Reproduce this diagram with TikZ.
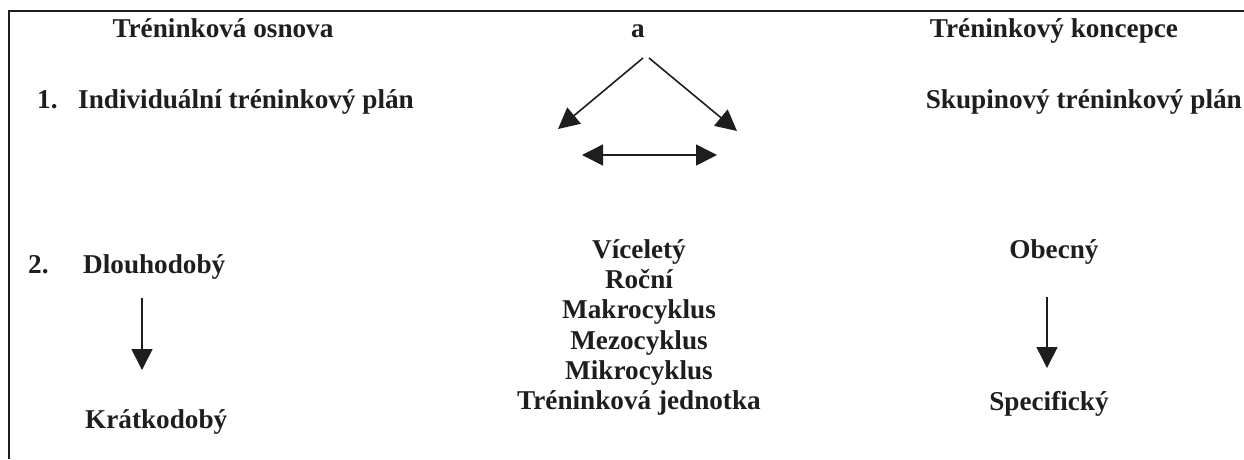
\documentclass[tikz,border=0pt]{standalone}
\usepackage{fontspec}
\setmainfont{Liberation Serif}
\usetikzlibrary{arrows.meta}
\definecolor{ink}{HTML}{1E1E1E}
\begin{document}
\begin{tikzpicture}[x=1pt,y=-1pt,
  lbl/.style={font=\fontsize{27.2}{30}\selectfont\bfseries, inner sep=0pt, text=ink, anchor=base},
  lblw/.style={lbl, anchor=base west},
  lble/.style={lbl, anchor=base east},
  arr/.style={draw=ink, line width=1.6pt, -{Triangle[length=21pt,width=21pt]}},
  darr/.style={draw=ink, line width=1.6pt, {Triangle[length=21pt,width=21pt]}-{Triangle[length=21pt,width=21pt]}},
  frame/.style={draw=ink, line width=1.5pt}]
\useasboundingbox (0,0) rectangle (1244,459);
% frame
\draw[frame] (9,459) -- (9,11) -- (1244,11);
% headings
\node[lbl] (h1) at (223,37) {Tréninková osnova};
\node[lbl] (ha) at (638,37) {a};
\node[lbl] (h3) at (1054,37) {Tréninkový koncepce};
% row 1
\node[lblw] (n1) at (37,108) {1.};
\node[lblw] (ind) at (78,108) {Individuální tréninkový plán};
\node[lble] (sku) at (1242,108) {Skupinový tréninkový plán};
% arrows from a
\coordinate (apl) at (643,58);
\coordinate (apr) at (649,58);
\coordinate (tl) at (558,129);
\coordinate (tr) at (737,131);
\draw[arr] (apl) -- (tl);
\draw[arr] (apr) -- (tr);
\coordinate (dl) at (582,155);
\coordinate (dr) at (717,155);
\draw[darr] (dl) -- (dr);
% row 2
\node[lblw] (n2) at (28,273) {2.};
\node[lblw] (dlo) at (83,273) {Dlouhodobý};
\node[lblw] (kra) at (85,428) {Krátkodobý};
\coordinate (la1) at (142,298);
\coordinate (la2) at (142,370);
\draw[arr] (la1) -- (la2);
\node[lbl] (obe) at (1054,258) {Obecný};
\node[lbl] (spe) at (1049,410) {Specifický};
\coordinate (ra1) at (1047,297);
\coordinate (ra2) at (1047,368);
\draw[arr] (ra1) -- (ra2);
% middle list
\node[lbl] (m1) at (639,258) {Víceletý};
\node[lbl] (m2) at (639,288) {Roční};
\node[lbl] (m3) at (639,318) {Makrocyklus};
\node[lbl] (m4) at (639,349) {Mezocyklus};
\node[lbl] (m5) at (639,379) {Mikrocyklus};
\node[lbl] (m6) at (639,409) {Tréninková jednotka};
\end{tikzpicture}
\end{document}
